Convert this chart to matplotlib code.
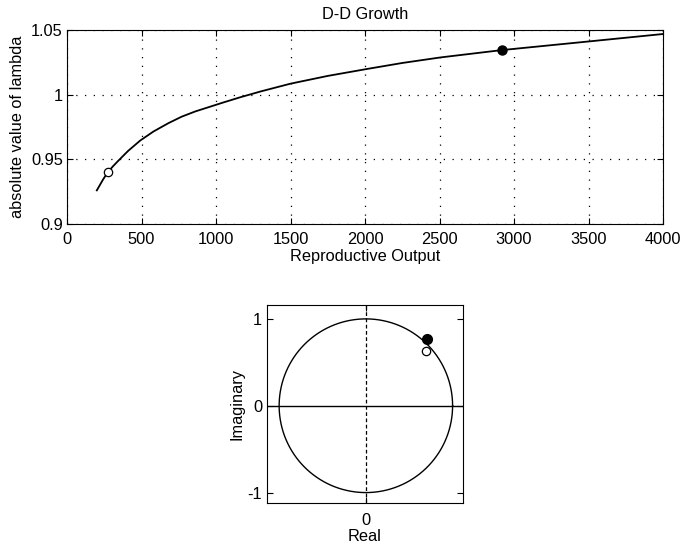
import numpy as np
import matplotlib
matplotlib.use("Agg")
import matplotlib.pyplot as plt

plt.rcParams['font.family'] = ['Liberation Sans', 'DejaVu Sans']
plt.rcParams['font.size'] = 11.8
plt.rcParams['axes.unicode_minus'] = False

# |lambda| against reproductive output
output = [200, 240, 273, 310, 345, 410, 491, 580, 681, 770, 860, 1050, 1163,
          1300, 1500, 1750, 2010, 2250, 2507, 2921, 3506, 4000]
abs_lambda = [0.926, 0.934, 0.940, 0.9448, 0.949, 0.9565, 0.9645, 0.9715,
              0.978, 0.983, 0.987, 0.994, 0.998, 1.0025, 1.0085, 1.0145,
              1.0198, 1.0245, 1.0288, 1.0345, 1.0412, 1.0469]

# start / end points marked on the curve
start_pt = (276, 0.940)
end_pt = (2921, 1.0345)

# the same two eigenvalues in the complex plane
eig_re = [0.698, 0.709]
eig_im = [0.629, 0.763]

W, H = 683, 548
fig = plt.figure(figsize=(W / 100, H / 100), dpi=100)

def box(l, t, r, b):
    return [l / W, 1 - b / H, (r - l) / W, (b - t) / H]

# top panel
ax = fig.add_axes(box(67, 30, 663, 224))
ax.plot(output, abs_lambda, color='black', lw=1.3)
ax.plot(*start_pt, 'o', mfc='white', mec='black', ms=6, mew=0.9)
ax.plot(*end_pt, 'o', color='black', ms=6.5)
ax.set_xlim(0, 4000)
ax.set_ylim(0.9, 1.05)
ax.set_xticks(np.arange(0, 4001, 500))
ax.set_yticks([0.9, 0.95, 1, 1.05])
ax.set_yticklabels(['0.9', '0.95', '1', '1.05'])
ax.grid(True, color='black', linestyle=(0, (1, 6)), lw=0.9)
ax.tick_params(direction='in', length=4, top=True, right=True)
ax.tick_params(axis='x', pad=6)
ax.tick_params(axis='y', pad=3)
ax.set_title('D-D Growth', fontsize=11.8, pad=8)
ax.set_xlabel('Reproductive Output', labelpad=1)
ax.set_ylabel('absolute value of lambda', labelpad=4)

# bottom panel: unit circle
ax2 = fig.add_axes(box(267, 305, 463, 503))
theta = np.linspace(0, 2 * np.pi, 400)
ax2.plot(np.cos(theta), np.sin(theta), color='black', lw=1.0)
ax2.axhline(0, color='black', lw=1.0)
ax2.axvline(0, color='black', lw=0.9, linestyle=(0, (3, 2)))
ax2.plot(eig_re[0], eig_im[0], 'o', mfc='white', mec='black', ms=6, mew=0.9)
ax2.plot(eig_re[1], eig_im[1], 'o', color='black', ms=7)
ax2.set_xlim(-1.14, 1.12)
ax2.set_ylim(-1.12, 1.16)
ax2.set_xticks([0])
ax2.set_yticks([-1, 0, 1])
ax2.tick_params(direction='in', length=4, top=True, right=True)
ax2.tick_params(axis='x', pad=7)
ax2.set_xlabel('Real', labelpad=1)
ax2.set_ylabel('Imaginary', labelpad=2)

fig.savefig('out.png', dpi=100)
